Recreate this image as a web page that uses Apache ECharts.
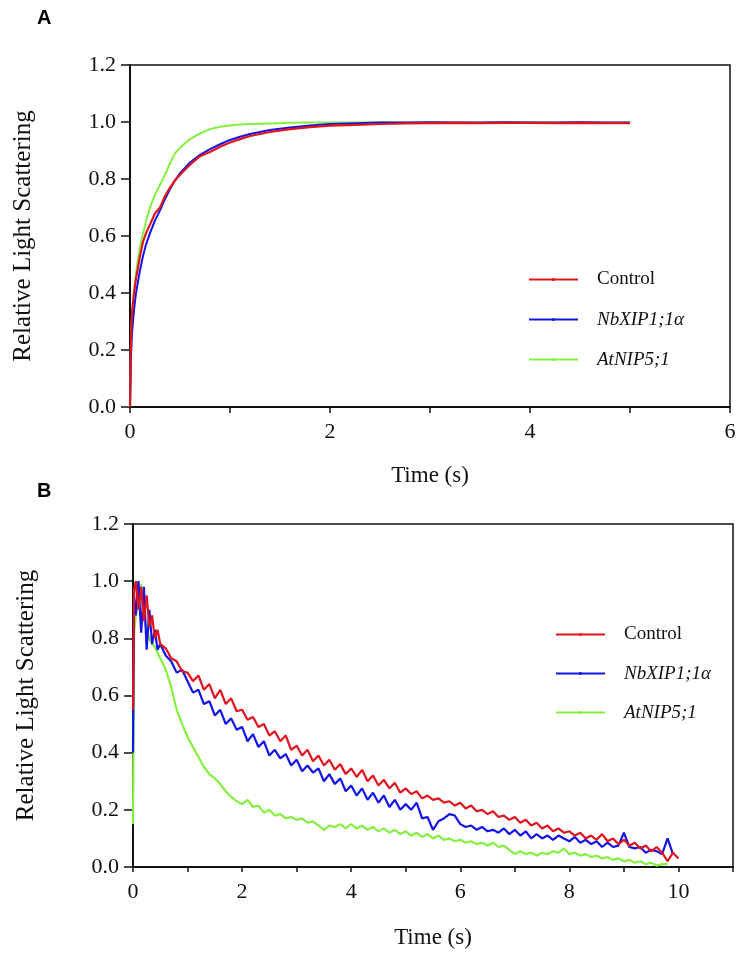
<!DOCTYPE html>
<html>
<head>
<meta charset="utf-8">
<script src="https://cdn.jsdelivr.net/npm/echarts@6/dist/echarts.min.js"></script>
<style>
html,body{margin:0;padding:0;background:#fff;}
#chart{width:739px;height:954px;}
</style>
</head>
<body>
<div id="chart"></div>
<script>
// ---------- Panel A data ----------
const timeA = [0,0.01,0.02,0.04,0.06,0.08,0.1,0.13,0.16,0.2,0.25,0.3,0.35,0.4,0.45,0.5,0.6,0.7,0.8,0.9,1.0,1.1,1.2,1.4,1.6,1.8,2.0,2.25,2.5,2.75,3.0,3.25,3.5,3.75,4.0,4.25,4.5,4.75,5.0];
const controlA = [0,0.24,0.33,0.40,0.45,0.49,0.53,0.58,0.61,0.64,0.68,0.70,0.74,0.77,0.795,0.815,0.85,0.88,0.895,0.913,0.928,0.94,0.951,0.965,0.975,0.982,0.987,0.99,0.993,0.995,0.996,0.997,0.996,0.997,0.997,0.996,0.997,0.996,0.996];
const nbA = [0,0.18,0.26,0.34,0.40,0.44,0.48,0.53,0.57,0.61,0.655,0.69,0.73,0.765,0.795,0.82,0.858,0.885,0.905,0.922,0.937,0.948,0.958,0.972,0.981,0.988,0.993,0.996,0.998,0.998,0.999,0.998,0.998,0.999,0.998,0.998,0.999,0.998,0.998];
const atA = [0,0.22,0.32,0.41,0.47,0.52,0.56,0.61,0.65,0.70,0.745,0.78,0.815,0.855,0.89,0.91,0.94,0.96,0.975,0.983,0.988,0.991,0.993,0.995,0.997,0.998,0.998,0.998,0.999,0.998,0.999,0.998,0.998,0.999,0.998,0.998,0.999,0.998,0.998];

// ---------- Panel B data ----------
const timeB = [0,0.02,0.05,0.1,0.15,0.2,0.25,0.3,0.35,0.4,0.45,0.5,0.6,0.7,0.8,0.9,1.0,1.1,1.2,1.3,1.4,1.5,1.6,1.7,1.8,1.9,2.0,2.1,2.2,2.3,2.4,2.5,2.6,2.7,2.8,2.9,3.0,3.1,3.2,3.3,3.4,3.5,3.6,3.7,3.8,3.9,4.0,4.1,4.2,4.3,4.4,4.5,4.6,4.7,4.8,4.9,5.0,5.1,5.2,5.3,5.4,5.5,5.6,5.7,5.8,5.9,6.0,6.1,6.2,6.3,6.4,6.5,6.6,6.7,6.8,6.9,7.0,7.1,7.2,7.3,7.4,7.5,7.6,7.7,7.8,7.9,8.0,8.1,8.2,8.3,8.4,8.5,8.6,8.7,8.8,8.9,9.0,9.1,9.2,9.3,9.4,9.5,9.6,9.7,9.8,9.9,10.0];
const controlB = [0.55,0.97,1.0,0.9,0.98,0.86,0.95,0.84,0.88,0.8,0.83,0.78,
0.765,0.73,0.72,0.685,
0.68,0.65,0.67,0.62,0.64,0.59,0.62,0.57,0.59,0.545,
0.55,0.515,0.525,0.49,0.5,0.46,0.475,0.44,0.46,0.41,
0.425,0.39,0.41,0.37,0.39,0.355,0.375,0.34,0.36,0.325,
0.345,0.315,0.34,0.3,0.32,0.285,0.305,0.275,0.295,0.26,
0.275,0.255,0.265,0.24,0.25,0.235,0.24,0.225,0.23,0.215,0.225,0.205,0.215,0.195,0.2,0.185,0.195,0.175,0.18,0.165,0.175,0.155,0.165,0.145,0.155,0.135,0.145,0.125,0.135,0.12,0.125,0.11,0.12,0.1,0.11,0.095,0.115,0.09,0.1,0.08,0.095,0.075,0.085,0.065,0.075,0.055,0.07,0.05,0.02,0.05,0.03];
const nbB = [0.4,0.95,0.88,1.0,0.82,0.98,0.76,0.9,0.78,0.83,0.76,0.78,
0.74,0.72,0.68,0.69,
0.65,0.61,0.62,0.57,0.58,0.53,0.55,0.5,0.52,0.48,
0.49,0.44,0.465,0.42,0.44,0.39,0.41,0.38,0.395,0.355,
0.375,0.335,0.355,0.33,0.345,0.3,0.325,0.29,0.31,0.265,
0.285,0.25,0.275,0.235,0.26,0.225,0.25,0.21,0.235,0.2,
0.22,0.2,0.225,0.17,0.175,0.13,0.16,0.17,0.185,0.18,0.15,0.14,0.145,0.13,0.14,0.125,0.13,0.12,0.135,0.115,0.13,0.11,0.125,0.1,0.115,0.1,0.11,0.095,0.11,0.1,0.09,0.105,0.085,0.095,0.08,0.09,0.07,0.085,0.07,0.075,0.12,0.07,0.065,0.07,0.05,0.06,0.055,0.045,0.1,0.045];
const atB = [0.15,0.82,0.88,0.92,0.99,0.87,0.83,0.8,0.78,0.77,0.75,0.73,
0.69,0.63,0.55,0.5,0.455,0.42,0.385,0.35,0.325,0.31,0.29,0.265,0.245,0.23,0.22,0.235,0.21,0.215,0.19,0.2,0.18,0.185,0.17,0.175,0.165,0.17,0.155,0.16,0.145,0.13,0.145,0.14,0.15,0.135,0.15,0.135,0.145,0.13,0.14,0.125,0.135,0.12,0.13,0.115,0.125,0.11,0.12,0.105,0.115,0.1,0.11,0.095,0.1,0.09,0.095,0.085,0.09,0.08,0.085,0.075,0.085,0.07,0.075,0.06,0.045,0.055,0.045,0.05,0.04,0.05,0.045,0.055,0.05,0.065,0.045,0.05,0.04,0.045,0.035,0.04,0.03,0.035,0.025,0.03,0.02,0.025,0.015,0.02,0.01,0.015,0.005,0.01,0.01,null,null];

const seriesNames = ['Control', 'NbXIP1;1α', 'AtNIP5;1'];

const RED = '#e0141e', BLUE = '#1414e6', GREEN = '#84f040';
const SERIF = '"Liberation Serif", "Times New Roman", serif';

function pairs(t, v) { return t.map((x, i) => [x, v[i]]); }

function mkSeries(name, color, t, v, idx, lw) {
  return {
    name: name, type: 'line', xAxisIndex: idx, yAxisIndex: idx,
    data: pairs(t, v), showSymbol: false, symbol: 'circle', symbolSize: 3,
    lineStyle: { color: color, width: lw }, itemStyle: { color: color },
    animation: false, connectNulls: false
  };
}

function xAx(idx, max, gap, tickLen) {
  return {
    type: 'value', gridIndex: idx, min: 0, max: max, interval: 1,
    name: 'Time (s)', nameLocation: 'middle', nameGap: gap,
    nameTextStyle: { fontFamily: SERIF, fontSize: 23, color: '#111' },
    axisLine: { lineStyle: { color: '#111', width: 2 } },
    axisTick: { show: true, inside: false, length: tickLen, lineStyle: { color: '#111', width: 1.5 } },
    axisLabel: { fontFamily: SERIF, fontSize: 22, color: '#111', margin: 14,
      formatter: v => (v % 2 === 0 ? String(v) : '') },
    splitLine: { show: false }
  };
}
function yAx(idx) {
  return {
    type: 'value', gridIndex: idx, min: 0, max: 1.2, interval: 0.2,
    name: 'Relative Light Scattering', nameLocation: 'middle', nameGap: 94,
    nameTextStyle: { fontFamily: SERIF, fontSize: 25, color: '#111' },
    axisLine: { lineStyle: { color: '#111', width: 2 } },
    axisTick: { show: true, inside: false, length: 9, lineStyle: { color: '#111', width: 1.5 } },
    axisLabel: { fontFamily: SERIF, fontSize: 22, color: '#111', margin: 14,
      formatter: v => v.toFixed(1) },
    splitLine: { show: false }
  };
}
function legendAt(left, top, gap) {
  return {
    orient: 'vertical', left: left, top: top, itemWidth: 49, itemHeight: 4, itemGap: gap,
    data: seriesNames, selectedMode: false,
    formatter: n => (n === 'Control' ? '{n|' + n + '}' : '{i|' + n + '}'),
    textStyle: {
      fontFamily: SERIF, fontSize: 19, color: '#111', padding: [0, 0, 0, 14],
      rich: {
        n: { fontFamily: SERIF, fontSize: 19, color: '#111' },
        i: { fontFamily: SERIF, fontSize: 19, color: '#111', fontStyle: 'italic' }
      }
    }
  };
}

const chart = echarts.init(document.getElementById('chart'), null, { renderer: 'canvas' });
chart.setOption({
  backgroundColor: '#fff',
  animation: false,
  graphic: [
    { type: 'text', left: 37, top: 8, style: { text: 'A', fontFamily: '"Liberation Sans", Arial, sans-serif', fontWeight: 'bold', fontSize: 20, fill: '#000' } },
    { type: 'text', left: 37, top: 481, style: { text: 'B', fontFamily: '"Liberation Sans", Arial, sans-serif', fontWeight: 'bold', fontSize: 20, fill: '#000' } }
  ],
  grid: [
    { left: 130, top: 65, width: 600, height: 342, show: true, borderColor: '#111', borderWidth: 1.5, backgroundColor: 'transparent' },
    { left: 133, top: 524, width: 600, height: 343, show: true, borderColor: '#111', borderWidth: 1.5, backgroundColor: 'transparent' }
  ],
  xAxis: [xAx(0, 6, 57, 6), xAx(1, 11, 59, 5)],
  yAxis: [yAx(0), yAx(1)],
  legend: [legendAt(523, 265, 21), legendAt(550, 620, 20)],
  series: [
    mkSeries('AtNIP5;1', GREEN, timeA, atA, 0, 2),
    mkSeries('NbXIP1;1α', BLUE, timeA, nbA, 0, 2),
    mkSeries('Control', RED, timeA, controlA, 0, 2.2),
    mkSeries('AtNIP5;1', GREEN, timeB, atB, 1, 2.2),
    mkSeries('NbXIP1;1α', BLUE, timeB, nbB, 1, 2.2),
    mkSeries('Control', RED, timeB, controlB, 1, 2.2)
  ]
});
</script>
</body>
</html>
